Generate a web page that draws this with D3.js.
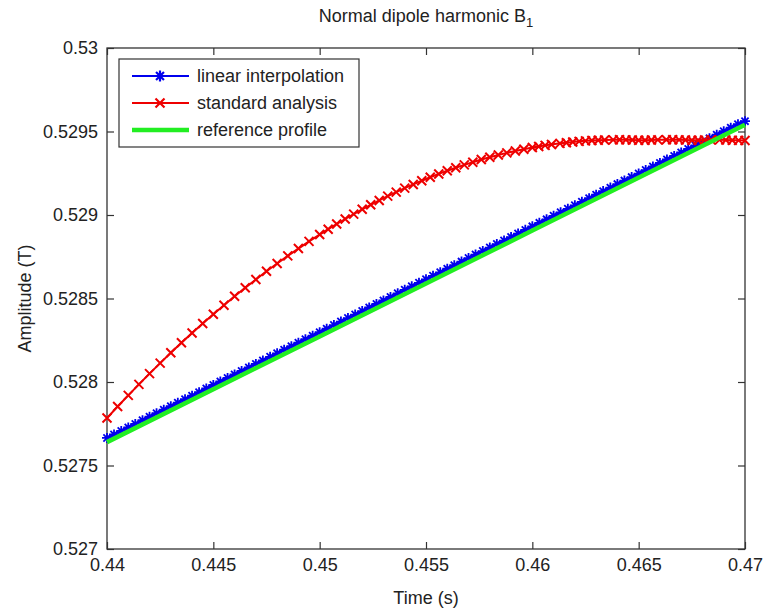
<!DOCTYPE html>
<html>
<head>
<meta charset="utf-8">
<script src="https://cdn.jsdelivr.net/npm/d3@7"></script>
<style>
  body { margin: 0; background: #fff; }
  text { font-family: "Liberation Sans", Arial, sans-serif; fill: #222; }
</style>
</head>
<body>
<div class="chart"></div>
<script>
// Data
var xTicks = [0.44, 0.445, 0.45, 0.455, 0.46, 0.465, 0.47];
var yTicks = [0.527, 0.5275, 0.528, 0.5285, 0.529, 0.5295, 0.53];
var xTickLabels = ["0.44", "0.445", "0.45", "0.455", "0.46", "0.465", "0.47"];
var yTickLabels = ["0.527", "0.5275", "0.528", "0.5285", "0.529", "0.5295", "0.53"];
var seriesNames = ["linear interpolation", "standard analysis", "reference profile"];

var linTime = [0.44, 0.44033, 0.44067, 0.441, 0.44133, 0.44167, 0.442, 0.44233, 0.44267, 0.443,
  0.44333, 0.44367, 0.444, 0.44433, 0.44467, 0.445, 0.44533, 0.44567, 0.446, 0.44633,
  0.44667, 0.447, 0.44733, 0.44767, 0.448, 0.44833, 0.44867, 0.449, 0.44933, 0.44967,
  0.45, 0.45033, 0.45067, 0.451, 0.45133, 0.45167, 0.452, 0.45233, 0.45267, 0.453,
  0.45333, 0.45367, 0.454, 0.45433, 0.45467, 0.455, 0.45533, 0.45567, 0.456, 0.45633,
  0.45667, 0.457, 0.45733, 0.45767, 0.458, 0.45833, 0.45867, 0.459, 0.45933, 0.45967,
  0.46, 0.46033, 0.46067, 0.461, 0.46133, 0.46167, 0.462, 0.46233, 0.46267, 0.463,
  0.46333, 0.46367, 0.464, 0.46433, 0.46467, 0.465, 0.46533, 0.46567, 0.466, 0.46633,
  0.46667, 0.467, 0.46733, 0.46767, 0.468, 0.46833, 0.46867, 0.469, 0.46933, 0.46967, 0.47];
var linValue = [0.527665, 0.527686, 0.527707, 0.527728, 0.527749, 0.527771, 0.527792, 0.527813, 0.527834, 0.527855,
  0.527876, 0.527897, 0.527918, 0.527939, 0.527961, 0.527982, 0.528003, 0.528024, 0.528045, 0.528066,
  0.528087, 0.528108, 0.528129, 0.528151, 0.528172, 0.528193, 0.528214, 0.528235, 0.528256, 0.528277,
  0.528298, 0.528319, 0.528341, 0.528362, 0.528383, 0.528404, 0.528425, 0.528446, 0.528467, 0.528488,
  0.528509, 0.528531, 0.528552, 0.528573, 0.528594, 0.528615, 0.528636, 0.528657, 0.528678, 0.528699,
  0.528721, 0.528742, 0.528763, 0.528784, 0.528805, 0.528826, 0.528847, 0.528868, 0.528889, 0.528911,
  0.528932, 0.528953, 0.528974, 0.528995, 0.529016, 0.529037, 0.529058, 0.529079, 0.529101, 0.529122,
  0.529143, 0.529164, 0.529185, 0.529206, 0.529227, 0.529248, 0.529269, 0.529291, 0.529312, 0.529333,
  0.529354, 0.529375, 0.529396, 0.529417, 0.529438, 0.529459, 0.529481, 0.529502, 0.529523, 0.529544, 0.529562];

var stdTime = [0.44, 0.4405, 0.441, 0.4415, 0.442, 0.4425, 0.443, 0.4435, 0.444, 0.4445,
  0.445, 0.4455, 0.446, 0.4465, 0.447, 0.4475, 0.448, 0.4485, 0.449, 0.4495,
  0.45, 0.4504, 0.4508, 0.4512, 0.4516, 0.452, 0.4524, 0.4528, 0.4532, 0.4536,
  0.454, 0.4544, 0.4548, 0.4552, 0.4556, 0.456, 0.4564, 0.4568, 0.4572, 0.4576,
  0.458, 0.4584, 0.4588, 0.4592, 0.4596, 0.46, 0.4603, 0.4606, 0.4609, 0.4613,
  0.4616, 0.4619, 0.4622, 0.4625, 0.4628, 0.4631, 0.4634, 0.4638, 0.4641, 0.4644,
  0.4647, 0.465, 0.4653, 0.4656, 0.4659, 0.4663, 0.4666, 0.4669, 0.4672, 0.4675,
  0.4678, 0.4681, 0.4684, 0.4688, 0.4691, 0.4694, 0.4697, 0.47];
var stdValue = [0.527784, 0.527853, 0.52792, 0.527986, 0.52805, 0.528113, 0.528175, 0.528235, 0.528293, 0.52835,
  0.528406, 0.52846, 0.528513, 0.528564, 0.528614, 0.528663, 0.52871, 0.528755, 0.528799, 0.528842,
  0.528883, 0.528915, 0.528946, 0.528976, 0.529005, 0.529034, 0.529061, 0.529087, 0.529113, 0.529137,
  0.529161, 0.529183, 0.529205, 0.529226, 0.529246, 0.529265, 0.529283, 0.5293, 0.529316, 0.529332,
  0.529346, 0.529359, 0.529372, 0.529383, 0.529394, 0.529404, 0.52941, 0.529417, 0.529422, 0.529429,
  0.529433, 0.529437, 0.529441, 0.529444, 0.529446, 0.529448, 0.529449, 0.52945, 0.529451, 0.52945,
  0.529449, 0.529448, 0.529448, 0.529449, 0.52945, 0.529451, 0.529451, 0.52945, 0.529449, 0.529448,
  0.529448, 0.529449, 0.52945, 0.52945, 0.529449, 0.529448, 0.529447, 0.529446];

var refTime = [0.44, 0.45, 0.46, 0.47];
var refValue = [0.52764, 0.528273, 0.528907, 0.52954];

var svgWidth = 763;
var svgHeight = 608;
var margin = { top: 48, right: 18, bottom: 59, left: 107 };
var width = svgWidth - margin.left - margin.right;
var height = svgHeight - margin.top - margin.bottom;

var svg = d3.select(".chart")
  .append("svg")
  .attr("width", svgWidth)
  .attr("height", svgHeight);

var chartGroup = svg.append("g")
  .attr("transform", `translate(${margin.left}, ${margin.top})`);

var x = d3.scaleLinear().domain([0.44, 0.47]).range([0, width]);
var y = d3.scaleLinear().domain([0.527, 0.53]).range([height, 0]);

var axisColor = "#333";
var tickLen = 7;

// plot background + box
chartGroup.append("rect")
  .attr("width", width).attr("height", height)
  .attr("fill", "#fff").attr("stroke", axisColor).attr("stroke-width", 1.3);

// axes (ticks inward, on all four sides)
function styleAxis(g) {
  g.select(".domain").remove();
  g.selectAll(".tick line").attr("stroke", axisColor).attr("stroke-width", 1.2);
  g.selectAll(".tick text")
    .attr("font-size", "18px")
    .attr("font-family", "'Liberation Sans', Arial, sans-serif")
    .attr("fill", "#222");
}

chartGroup.append("g")
  .attr("transform", `translate(0, ${height})`)
  .call(d3.axisBottom(x).tickValues(xTicks).tickSize(-tickLen).tickPadding(9)
    .tickFormat((d, i) => xTickLabels[i]))
  .call(styleAxis);

chartGroup.append("g")
  .call(d3.axisLeft(y).tickValues(yTicks).tickSize(-tickLen).tickPadding(9)
    .tickFormat((d, i) => yTickLabels[i]))
  .call(styleAxis);

chartGroup.append("g")
  .call(d3.axisTop(x).tickValues(xTicks).tickSize(-tickLen).tickFormat(""))
  .call(styleAxis);

chartGroup.append("g")
  .attr("transform", `translate(${width}, 0)`)
  .call(d3.axisRight(y).tickValues(yTicks).tickSize(-tickLen).tickFormat(""))
  .call(styleAxis);

// lines
chartGroup.append("clipPath").attr("id", "plotclip")
  .append("rect").attr("x", -6).attr("y", -6).attr("width", width + 12).attr("height", height + 12);

var plot = chartGroup.append("g").attr("clip-path", "url(#plotclip)");

var lineGen = d3.line()
  .x(d => x(d[0]))
  .y(d => y(d[1]));

var linData = linTime.map((t, i) => [t, linValue[i]]);
var stdData = stdTime.map((t, i) => [t, stdValue[i]]);
var refData = refTime.map((t, i) => [t, refValue[i]]);

var blue = "#0000ee";
var red = "#ee0000";
var green = "#22ee22";

function starPath(cx, cy, r) {
  var p = "";
  p += `M${cx - r},${cy}L${cx + r},${cy}`;
  p += `M${cx},${cy - r}L${cx},${cy + r}`;
  var k = r * 0.72;
  p += `M${cx - k},${cy - k}L${cx + k},${cy + k}`;
  p += `M${cx - k},${cy + k}L${cx + k},${cy - k}`;
  return p;
}
function crossPath(cx, cy, r) {
  return `M${cx - r},${cy - r}L${cx + r},${cy + r}M${cx - r},${cy + r}L${cx + r},${cy - r}`;
}

// linear interpolation
plot.append("path")
  .datum(linData)
  .attr("d", lineGen)
  .attr("fill", "none").attr("stroke", blue).attr("stroke-width", 2);
plot.selectAll(".linmark")
  .data(linData)
  .enter()
  .append("path")
  .attr("class", "linmark")
  .attr("d", d => starPath(x(d[0]), y(d[1]), 5))
  .attr("stroke", blue).attr("stroke-width", 1.8).attr("fill", "none");

// standard analysis
plot.append("path")
  .datum(stdData)
  .attr("d", lineGen)
  .attr("fill", "none").attr("stroke", red).attr("stroke-width", 2);
plot.selectAll(".stdmark")
  .data(stdData)
  .enter()
  .append("path")
  .attr("class", "stdmark")
  .attr("d", d => crossPath(x(d[0]), y(d[1]), 4.5))
  .attr("stroke", red).attr("stroke-width", 2).attr("fill", "none");

// reference profile
plot.append("path")
  .datum(refData)
  .attr("d", lineGen)
  .attr("fill", "none").attr("stroke", green).attr("stroke-width", 4.5);

// legend
var legend = chartGroup.append("g").attr("transform", "translate(12, 11)");
legend.append("rect")
  .attr("width", 240).attr("height", 88)
  .attr("fill", "#fff").attr("stroke", axisColor).attr("stroke-width", 1.2);

var legendColors = [blue, red, green];
seriesNames.forEach(function(name, i) {
  var ly = 17 + i * 27;
  legend.append("line")
    .attr("x1", 13).attr("x2", 70).attr("y1", ly).attr("y2", ly)
    .attr("stroke", legendColors[i]).attr("stroke-width", i == 2 ? 4.5 : 2);
  if (i == 0) {
    legend.append("path").attr("d", starPath(41, ly, 5.5))
      .attr("stroke", blue).attr("stroke-width", 2.2).attr("fill", "none");
  }
  if (i == 1) {
    legend.append("path").attr("d", crossPath(41, ly, 4.5))
      .attr("stroke", red).attr("stroke-width", 2.2).attr("fill", "none");
  }
  legend.append("text")
    .attr("x", 78).attr("y", ly + 6)
    .attr("font-size", "18px")
    .text(name);
});

// axis labels
chartGroup.append("text")
  .attr("transform", "rotate(-90)")
  .attr("x", -height / 2)
  .attr("y", -margin.left + 31)
  .attr("text-anchor", "middle")
  .attr("font-size", "18px")
  .text("Amplitude (T)");

chartGroup.append("text")
  .attr("x", width / 2)
  .attr("y", height + 55)
  .attr("text-anchor", "middle")
  .attr("font-size", "18px")
  .text("Time (s)");

// title with subscript
var title = svg.append("text")
  .attr("x", margin.left + width / 2)
  .attr("y", 22)
  .attr("text-anchor", "middle")
  .attr("font-size", "18px");
title.append("tspan").text("Normal dipole harmonic B");
title.append("tspan").attr("dy", 5).attr("font-size", "13px").text("1");
</script>
</body>
</html>
